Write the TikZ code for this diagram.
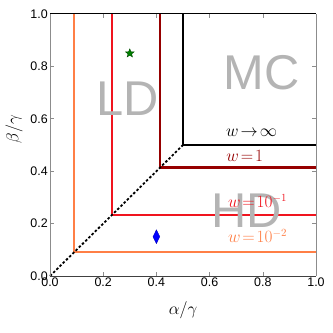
\documentclass[tikz,border=0pt]{standalone}
\usepackage{fontspec}
\newfontfamily\plotfont{Liberation Sans}
\usetikzlibrary{shapes.geometric}
\definecolor{wlow}{RGB}{255,127,70}
\definecolor{wmid}{RGB}{240,20,30}
\definecolor{wone}{RGB}{150,0,0}
\definecolor{phasegray}{RGB}{180,180,180}
\definecolor{spinegray}{RGB}{140,140,140}

\begin{document}
\begin{tikzpicture}[x=266bp,y=262bp,
  boundary/.style={line width=2.2bp},
  phaselab/.style={font=\plotfont\fontsize{49}{49}\selectfont,text=phasegray,inner sep=0pt},
  wlab/.style={font=\fontsize{16}{16}\selectfont,inner sep=0pt},
  ticklab/.style={font=\plotfont\fontsize{12.5}{12.5}\selectfont,inner sep=2pt},
  axlab/.style={font=\fontsize{17}{17}\selectfont,inner sep=0pt}
]
  \useasboundingbox (-50bp,-57bp) rectangle (283bp,276bp);
  % boundaries for each w
  \draw[boundary,color=wlow] (0.0905,1) -- (0.0905,0.0905) -- (1,0.0905);
  \draw[boundary,color=wmid] (0.2317,1) -- (0.2317,0.2317) -- (1,0.2317);
  \draw[boundary,color=wone] (0.4142,1) -- (0.4142,0.4142) -- (1,0.4142);
  \draw[boundary,color=black] (0.5,1) -- (0.5,0.5) -- (1,0.5);
  \draw[line width=1.8bp,black,dash pattern=on 2.5bp off 2bp] (0,0) -- (0.5,0.5);
  % phase labels
  \node[phaselab] (ld) at (0.293,0.675) {LD};
  \node[phaselab] (mc) at (0.796,0.777) {MC};
  \node[phaselab] (hd) at (0.74,0.248) {HD};
  % w labels
  \node[wlab,text=black] (winf) at (0.758,0.548) {$w\!\rightarrow\!\infty$};
  \node[wlab,text=wone] (w1) at (0.732,0.46) {$w\!=\!1$};
  \node[wlab,text=wmid] (w2) at (0.78,0.286) {$w\!=\!10^{-1}$};
  \node[wlab,text=wlow] (w3) at (0.78,0.153) {$w\!=\!10^{-2}$};
  % markers
  \node[star,star points=5,star point ratio=2.3,fill=green!50!black,draw=black!70!green,
    line width=0.4pt,minimum size=9bp,inner sep=0pt] (pstar) at (0.3,0.85) {};
  \node[diamond,fill=blue,draw=blue!70!black,line width=0.3pt,inner sep=0pt,
    minimum width=7bp,minimum height=14bp,aspect=0.5] (pdiam) at (0.4,0.15) {};
  % frame and ticks
  \draw[spinegray,line width=1pt] (0,0) -- (0,1);
  \draw[spinegray,line width=1pt] (1,0) -- (1,1);
  \draw[black!75,line width=1pt] (0,0) -- (1,0);
  \draw[black,line width=1pt] (0,1) -- (1,1);
  \foreach \t in {0.2,0.4,0.6,0.8} {
    \draw[spinegray,line width=0.6pt] (\t,0) -- ++(0,4bp);
    \draw[spinegray,line width=0.6pt] (\t,1) -- ++(0,-4bp);
    \draw[spinegray,line width=0.6pt] (0,\t) -- ++(4bp,0);
    \draw[spinegray,line width=0.6pt] (1,\t) -- ++(-4bp,0);
  }
  \foreach \t [count=\i] in {0.0,0.2,0.4,0.6,0.8,1.0} {
    \node[ticklab,below] (xt\i) at (\t,0) {\t};
    \node[ticklab,left] (yt\i) at (0,\t) {\t};
  }
  % axis labels
  \node[axlab] (xlab) at (0.5,-0.13) {$\alpha/\gamma$};
  \node[axlab,rotate=90] (ylab) at (-0.135,0.56) {$\beta/\gamma$};
\end{tikzpicture}
\end{document}
